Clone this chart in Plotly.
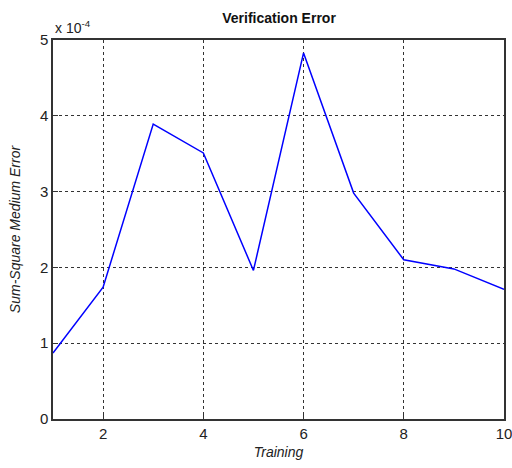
import plotly.graph_objects as go

# Verification error per training run (values in units of 1e-4)
training = [1, 2, 3, 4, 5, 6, 7, 8, 9, 10]
error_e4 = [0.87, 1.74, 3.89, 3.51, 1.96, 4.83, 2.98, 2.10, 1.98, 1.71]
x_ticks = [2, 4, 6, 8, 10]
y_ticks = [0, 1, 2, 3, 4, 5]

font_main = "Liberation Sans, Arial, Helvetica, sans-serif"

fig = go.Figure()
fig.add_trace(go.Scatter(
    x=training, y=error_e4, mode="lines",
    line=dict(color="#0000ff", width=1.5),
    showlegend=False,
))

axis_common = dict(
    showline=True, linecolor="#333333", linewidth=1.5, mirror=True,
    showgrid=True, gridcolor="#333333", griddash="dot", gridwidth=1,
    ticks="inside", ticklen=5, tickcolor="#333333",
    zeroline=False, automargin=False, ticklabeloverflow="allow",
    tickfont=dict(family=font_main, size=15, color="#222222"),
)

fig.update_layout(
    width=512, height=468,
    margin=dict(l=53, r=8, t=40, b=49),
    paper_bgcolor="white", plot_bgcolor="white",
    title=dict(text="<b>Verification Error</b>", x=0.545, xanchor="center",
               y=0.962, yanchor="middle",
               font=dict(family=font_main, size=14, color="#111111")),
    xaxis=dict(range=[1, 10], tickvals=x_ticks,
               title=dict(text="<i>Training</i>", standoff=6,
                          font=dict(family=font_main, size=14, color="#222222")),
               **axis_common),
    yaxis=dict(range=[0, 5], tickvals=y_ticks,
               title=dict(text="<i>Sum-Square Medium Error</i>", standoff=16,
                          font=dict(family=font_main, size=14, color="#222222")),
               **axis_common),
)

# exponent label for the y axis
fig.add_annotation(
    text="x 10<sup>-4</sup>", xref="paper", yref="paper",
    x=0.0, y=1.0, xanchor="left", yanchor="bottom", yshift=2,
    showarrow=False,
    font=dict(family=font_main, size=14, color="#222222"),
)

fig.write_html("out.html")
